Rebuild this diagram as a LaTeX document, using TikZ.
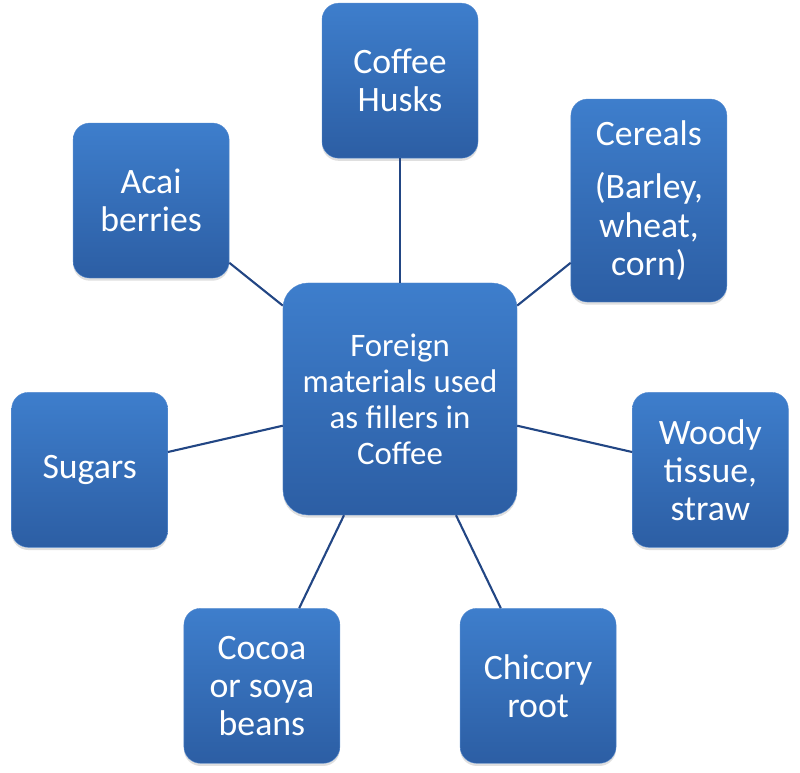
\documentclass[tikz,border=0pt]{standalone}
\usepackage{fontspec}
\setmainfont{Carlito}
\usetikzlibrary{positioning, shadows}
\definecolor{boxtop}{RGB}{62,126,204}
\definecolor{boxbot}{RGB}{44,94,164}
\definecolor{boxedge}{RGB}{88,140,208}
\definecolor{spokeblue}{RGB}{34,70,132}

\begin{document}
\begin{tikzpicture}[filler/.style={rectangle, rounded corners=0.5cm, top color=boxtop, bottom color=boxbot, draw=boxedge, line width=0.3pt, text=white, align=center, minimum width=4.68cm, minimum height=4.65cm, inner sep=0pt, font=\fontsize{30.5}{32.5}\selectfont, drop shadow={shadow xshift=0pt, shadow yshift=-0.08cm, opacity=0.25}},
    hub/.style={filler, rounded corners=0.75cm, minimum width=7.02cm, minimum height=6.96cm, font=\fontsize{28}{30.8}\selectfont},
    spoke/.style={draw=spokeblue, line width=1.8pt}]
            \useasboundingbox (-12,11.97) rectangle (12,-11.19);
            \node[hub] (hub) at (0,0) {Foreign\\materials used\\as fillers in\\Coffee};
            \node[filler] (husks) at (90:9.55) {Coffee\\Husks};
            \node[filler, minimum height=6.09cm] (cereals) at (38.57:9.55) {Cereals\\[0.45cm](Barley,\\wheat,\\corn)};
            \node[filler] (woody) at (-12.86:9.55) {Woody\\tissue,\\straw};
            \node[filler] (chicory) at (-64.29:9.55) {Chicory\\root};
            \node[filler] (cocoa) at (-115.71:9.55) {Cocoa\\or soya\\beans};
            \node[filler] (sugars) at (192.86:9.55) {Sugars};
            \node[filler] (acai) at (141.43:9.55) {Acai\\berries};
            \foreach \n in {husks, cereals, woody, chicory, cocoa, sugars, acai} {
                \draw[spoke] (hub) -- (\n);
            }
        \end{tikzpicture}
\end{document}
